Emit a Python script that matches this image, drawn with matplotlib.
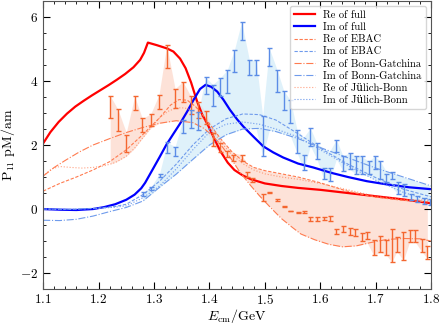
import numpy as np
import matplotlib.pyplot as plt
from matplotlib.ticker import MultipleLocator

plt.rcParams['font.family'] = ['cmr10', 'DejaVu Serif']
plt.rcParams['mathtext.fontset'] = 'cm'
plt.rcParams['axes.formatter.use_mathtext'] = True
plt.rcParams['axes.unicode_minus'] = True

# full model
E_re_full = [1.10, 1.113, 1.128, 1.143, 1.158, 1.173, 1.188, 1.203, 1.218, 1.233, 1.248, 1.263, 1.275, 1.282,
             1.289, 1.305, 1.323, 1.335, 1.347, 1.357, 1.367, 1.377, 1.387, 1.398, 1.41, 1.42, 1.433, 1.445,
             1.46, 1.475, 1.50, 1.53, 1.56, 1.60, 1.65, 1.70, 1.75, 1.80]
re_full = [2.05, 2.40, 2.72, 2.98, 3.20, 3.38, 3.55, 3.71, 3.87, 4.04, 4.22, 4.43, 4.66, 4.88,
           5.20, 5.12, 5.02, 4.92, 4.70, 4.40, 3.95, 3.40, 2.95, 2.60, 2.15, 1.80, 1.45, 1.22,
           1.05, 0.93, 0.80, 0.72, 0.66, 0.60, 0.50, 0.40, 0.30, 0.18]
E_im_full = [1.10, 1.13, 1.16, 1.19, 1.21, 1.23, 1.25, 1.265, 1.277, 1.284, 1.298, 1.31, 1.322, 1.335,
             1.347, 1.36, 1.371, 1.383, 1.393, 1.403, 1.414, 1.425, 1.437, 1.45, 1.461, 1.48, 1.497,
             1.515, 1.533, 1.56, 1.587, 1.62, 1.65, 1.684, 1.72, 1.76, 1.80]
im_full = [0.0, -0.02, -0.03, 0.0, 0.06, 0.15, 0.29, 0.45, 0.65, 0.82, 1.25, 1.62, 2.0, 2.35,
           2.67, 3.05, 3.40, 3.75, 3.88, 3.82, 3.67, 3.42, 3.10, 2.80, 2.58, 2.25, 1.96,
           1.77, 1.61, 1.42, 1.30, 1.13, 1.0, 0.87, 0.77, 0.68, 0.62]

# other analyses
E_re_ebac = [1.10, 1.13, 1.16, 1.19, 1.22, 1.25, 1.28, 1.31, 1.33, 1.345, 1.36, 1.375, 1.39, 1.405, 1.42,
             1.44, 1.46, 1.48, 1.50, 1.53, 1.56, 1.60, 1.65, 1.70, 1.75, 1.80]
re_ebac = [0.56, 0.80, 1.00, 1.22, 1.48, 1.85, 2.33, 2.85, 3.25, 3.42, 3.40, 3.20, 2.90, 2.55, 2.20,
           1.80, 1.50, 1.30, 1.20, 1.10, 1.00, 0.82, 0.55, 0.37, 0.27, 0.22]
E_re_bg = [1.10, 1.12, 1.14, 1.165, 1.19, 1.22, 1.25, 1.28, 1.31, 1.34, 1.37, 1.39, 1.405, 1.42, 1.44,
           1.455, 1.475, 1.49, 1.51, 1.53, 1.55, 1.565, 1.59, 1.615, 1.64, 1.665, 1.69, 1.72, 1.75,
           1.78, 1.80]
re_bg = [1.03, 1.30, 1.52, 1.78, 2.00, 2.20, 2.39, 2.55, 2.68, 2.76, 2.70, 2.52, 2.30, 2.02, 1.55,
         1.15, 0.72, 0.42, 0.05, -0.30, -0.58, -0.78, -0.96, -1.10, -1.18, -1.15, -1.05, -0.95, -0.92,
         -0.93, -1.00]
E_re_jb = [1.10, 1.115, 1.13, 1.15, 1.17, 1.19, 1.21, 1.23, 1.25, 1.265, 1.28, 1.295, 1.31, 1.325, 1.34,
           1.355, 1.37, 1.385, 1.40, 1.42, 1.44, 1.46, 1.48, 1.50, 1.53, 1.56, 1.60, 1.65, 1.70, 1.75,
           1.80]
re_jb = [1.03, 1.25, 1.33, 1.30, 1.28, 1.30, 1.35, 1.45, 1.65, 1.90, 2.23, 2.55, 2.85, 3.05, 3.16,
         3.16, 3.08, 2.90, 2.60, 2.10, 1.70, 1.42, 1.22, 1.10, 1.00, 0.93, 0.80, 0.60, 0.40, 0.30,
         0.28]
E_im_ebac = [1.10, 1.15, 1.20, 1.23, 1.25, 1.28, 1.31, 1.34, 1.37, 1.40, 1.43, 1.46, 1.49, 1.52, 1.56,
             1.60, 1.65, 1.70, 1.75, 1.80]
im_ebac = [0.0, -0.01, 0.03, 0.08, 0.15, 0.45, 0.87, 1.40, 2.00, 2.50, 2.82, 2.97, 2.95, 2.78, 2.35,
           1.90, 1.40, 0.98, 0.62, 0.38]
E_im_bg = [1.10, 1.13, 1.16, 1.19, 1.22, 1.25, 1.28, 1.31, 1.34, 1.37, 1.40, 1.43, 1.46, 1.49, 1.52,
           1.56, 1.60, 1.65, 1.70, 1.75, 1.80]
im_bg = [-0.35, -0.36, -0.32, -0.22, -0.08, 0.05, 0.25, 0.68, 1.09, 1.55, 2.00, 2.32, 2.50, 2.52, 2.42,
         2.20, 1.92, 1.60, 1.28, 1.00, 0.72]
E_im_jb = [1.10, 1.15, 1.20, 1.23, 1.25, 1.28, 1.31, 1.34, 1.37, 1.40, 1.43, 1.46, 1.49, 1.52, 1.56,
           1.60, 1.65, 1.70, 1.75, 1.80]
im_jb = [0.0, -0.01, 0.02, 0.06, 0.10, 0.35, 0.72, 1.25, 1.85, 2.40, 2.65, 2.72, 2.65, 2.50, 2.25,
         1.85, 1.35, 0.90, 0.52, 0.25]

# data points with errors
E_re_dat = [1.221, 1.235, 1.250, 1.265, 1.279, 1.294, 1.309, 1.323, 1.338, 1.352, 1.366, 1.380, 1.393,
            1.407, 1.419, 1.431, 1.443, 1.458, 1.467, 1.476, 1.496, 1.508, 1.522, 1.534, 1.546, 1.559,
            1.570, 1.582, 1.594, 1.606, 1.617, 1.629, 1.641, 1.653, 1.663, 1.675, 1.685, 1.696, 1.708,
            1.719, 1.729, 1.738, 1.750, 1.761, 1.771, 1.783, 1.793]
re_dat = [3.19, 2.78, 2.05, 3.31, 2.62, 2.78, 3.34, 4.76, 3.46, 3.66, 3.26, 3.10, 2.85,
          2.17, 1.92, 1.72, 1.60, 1.60, 1.07, 0.90, 0.37, 0.52, 0.29, 0.08, -0.06, -0.10,
          -0.10, -0.31, -0.31, -0.29, -0.29, -0.70, -0.62, -0.70, -0.73, -0.88, -0.83, -1.21, -1.09,
          -1.21, -1.14, -1.10, -1.16, -0.85, -0.85, -1.13, -1.35]
re_err = [0.35, 0.33, 0.27, 0.21, 0.21, 0.19, 0.23, 0.36, 0.30, 0.32, 0.28, 0.25, 0.20,
          0.21, 0.15, 0.08, 0.10, 0.10, 0.08, 0.06, 0.11, 0.02, 0.03, 0.02, 0.01, 0.02,
          0.03, 0.05, 0.05, 0.05, 0.07, 0.08, 0.10, 0.10, 0.12, 0.13, 0.12, 0.23, 0.26,
          0.23, 0.52, 0.23, 0.44, 0.18, 0.18, 0.20, 0.20]
E_im_dat = [1.280, 1.295, 1.310, 1.324, 1.338, 1.352, 1.366, 1.380, 1.393, 1.406, 1.419, 1.432, 1.445,
            1.458, 1.472, 1.484, 1.496, 1.508, 1.522, 1.534, 1.546, 1.558, 1.570, 1.582, 1.594, 1.606,
            1.617, 1.629, 1.641, 1.653, 1.664, 1.675, 1.687, 1.698, 1.708, 1.719, 1.729, 1.740, 1.751,
            1.763, 1.775, 1.787, 1.797]
im_dat = [0.47, 0.64, 1.05, 1.92, 1.80, 2.58, 2.82, 2.75, 3.85, 3.55, 3.81, 3.98, 4.63,
          5.57, 4.43, 4.43, 2.28, 4.74, 4.01, 3.40, 3.05, 2.12, 1.45, 2.25, 1.80, 1.11,
          1.09, 1.97, 1.42, 1.50, 1.37, 1.37, 1.29, 1.45, 1.22, 0.98, 1.05, 0.65, 0.60,
          0.37, 0.31, 0.26, 0.22]
im_err = [0.05, 0.06, 0.06, 0.16, 0.15, 0.20, 0.28, 0.28, 0.27, 0.34, 0.28, 0.36, 0.34,
          0.28, 0.23, 0.23, 0.62, 0.28, 0.34, 0.30, 0.35, 0.36, 0.23, 0.28, 0.25, 0.18,
          0.20, 0.20, 0.23, 0.26, 0.28, 0.28, 0.20, 0.20, 0.28, 0.12, 0.12, 0.18, 0.18,
          0.10, 0.10, 0.10, 0.09]

c_re = '#ff7b4f'
c_re_dat = '#f4662f'
c_im = '#6f9bec'
c_im_dat = '#5b8ce6'

fig = plt.figure(figsize=(4.4, 3.27), dpi=100)
ax = fig.add_axes([0.098, 0.116, 0.882, 0.881])

# shaded envelopes: data error bars together with the three analyses
xr = np.array(E_re_dat)
lo_r = np.min([np.array(re_dat) - re_err, np.interp(xr, E_re_ebac, re_ebac),
               np.interp(xr, E_re_bg, re_bg), np.interp(xr, E_re_jb, re_jb)], axis=0)
hi_r = np.max([np.array(re_dat) + re_err, np.interp(xr, E_re_ebac, re_ebac),
               np.interp(xr, E_re_bg, re_bg), np.interp(xr, E_re_jb, re_jb)], axis=0)
ax.fill_between(xr, lo_r, hi_r, color='#fdd9cc', alpha=0.75, lw=0)
xi = np.array(E_im_dat)
lo_i = np.min([np.array(im_dat) - im_err, np.interp(xi, E_im_ebac, im_ebac),
               np.interp(xi, E_im_bg, im_bg), np.interp(xi, E_im_jb, im_jb)], axis=0)
hi_i = np.max([np.array(im_dat) + im_err, np.interp(xi, E_im_ebac, im_ebac),
               np.interp(xi, E_im_bg, im_bg), np.interp(xi, E_im_jb, im_jb)], axis=0)
ax.fill_between(xi, lo_i, hi_i, color='#d2ecf8', alpha=0.7, lw=0)

ax.plot(E_re_full, re_full, color='#ff0000', lw=1.6, label='Re of full')
ax.plot(E_im_full, im_full, color='#0000ff', lw=1.6, label='Im of full')
ax.plot(E_re_ebac, re_ebac, color=c_re, lw=0.8, ls=(0, (3, 1.5)), label='Re of EBAC')
ax.plot(E_im_ebac, im_ebac, color=c_im, lw=0.8, ls=(0, (3, 1.5)), label='Im of EBAC')
ax.plot(E_re_bg, re_bg, color=c_re, lw=0.8, ls='-.', label='Re of Bonn-Gatchina')
ax.plot(E_im_bg, im_bg, color=c_im, lw=0.8, ls='-.', label='Im of Bonn-Gatchina')
ax.plot(E_re_jb, re_jb, color=c_re, lw=0.8, ls=':', alpha=0.7, label='Re of Jülich-Bonn')
ax.plot(E_im_jb, im_jb, color=c_im, lw=0.8, ls=':', label='Im of Jülich-Bonn')

ax.errorbar(E_re_dat, re_dat, yerr=re_err, fmt='none', ecolor=c_re_dat, elinewidth=1.0, capsize=1.8)
ax.errorbar(E_im_dat, im_dat, yerr=im_err, fmt='none', ecolor=c_im_dat, elinewidth=1.0, capsize=1.8)

ax.set_xlim(1.1, 1.8)
ax.set_ylim(-2.5, 6.5)
ax.xaxis.set_major_locator(MultipleLocator(0.1))
ax.xaxis.set_minor_locator(MultipleLocator(0.02))
ax.yaxis.set_major_locator(MultipleLocator(2))
ax.yaxis.set_minor_locator(MultipleLocator(0.5))
ax.tick_params(which='both', direction='in', top=True, right=True, labelsize=9.5)
ax.tick_params(which='major', length=5)
ax.tick_params(which='minor', length=2.5)
ax.tick_params(axis='x', pad=3)
for s in ax.spines.values():
    s.set_color('#555555')

ax.set_xlabel(r'$E_{\rm cm}$/GeV', fontsize=10, labelpad=0)
ax.set_ylabel(r'$\mathrm{P_{11}\ pM/am}$', fontsize=10, labelpad=2)

ax.legend(loc='upper right', fontsize=7.6, frameon=True, fancybox=True, edgecolor='#cccccc',
          handlelength=2.0, labelspacing=0.25, borderaxespad=0.5)

plt.savefig('out.png', dpi=100)
